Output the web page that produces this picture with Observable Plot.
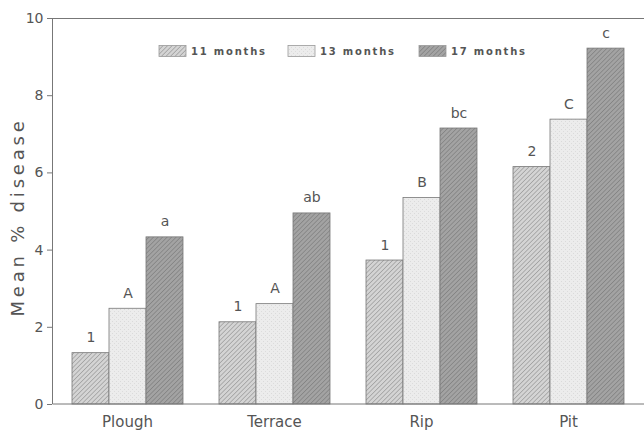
<!DOCTYPE html>
<html><head><meta charset="utf-8">
<script src="https://cdn.jsdelivr.net/npm/d3@7"></script>
<script src="https://cdn.jsdelivr.net/npm/@observablehq/plot@0.6"></script>
<style>body{margin:0;background:#fff;} #chart svg{display:block;}</style>
</head><body><div id="chart"></div>
<script>
const sites = ["Plough", "Terrace", "Rip", "Pit"];
const series = ["11 months", "13 months", "17 months"];
const m11 = [1.33, 2.13, 3.73, 6.15];
const m13 = [2.48, 2.60, 5.35, 7.38];
const m17 = [4.33, 4.95, 7.15, 9.22];
const lab11 = ["1", "1", "1", "2"];
const lab13 = ["A", "A", "B", "C"];
const lab17 = ["a", "ab", "bc", "c"];
const yTicks = [0, 2, 4, 6, 8, 10];
const yLabel = "Mean % disease";
const patternIds = ["p11", "p13", "p17"];

const vals = [m11, m13, m17], labs = [lab11, lab13, lab17];
const data = [];
sites.forEach((s, i) => series.forEach((m, j) =>
  data.push({site: s, month: m, value: vals[j][i], label: labs[j][i]})));

const font = "'DejaVu Sans', Verdana, sans-serif";
const marginLeft = 52;
function build(axisDx) {
  return Plot.plot({
    width: 644, height: 430,
    marginLeft, marginRight: 0, marginTop: 18, marginBottom: 26,
    style: {fontFamily: font, background: "#fff", color: "#555"},
    fx: {domain: sites, paddingInner: 0.236, paddingOuter: 0.128, label: null},
    x: {domain: series, padding: 0, axis: null},
    y: {domain: [0, 10], label: null},
    color: {domain: series, range: patternIds.map(id => `url(#${id})`)},
    marks: [
      Plot.axisY({ticks: yTicks, tickSize: 5, tickPadding: 4, fontSize: 14, label: null, stroke: "#777", dx: axisDx}),
      Plot.axisFx({anchor: "bottom", tickSize: 0, tickPadding: 12, fontSize: 15, label: null, letterSpacing: 0.5}),
      Plot.barY(data, {fx: "site", x: "month", y: "value", fill: "month", stroke: "#777", strokeWidth: 0.8}),
      Plot.text(data, {fx: "site", x: "month", y: "value", text: "label", dy: -11, lineAnchor: "bottom", fontSize: 14, fill: "#555"})
    ]
  });
}
const first = build(0);
const offset = first.scale("fx").apply(sites[0]) - marginLeft;
const plot = build(-offset);

const svg = d3.select(plot);
const defs = svg.insert("defs", ":first-child");
function hatch(id, bg, line, size, w) {
  const p = defs.append("pattern").attr("id", id).attr("patternUnits", "userSpaceOnUse")
    .attr("width", size).attr("height", size).attr("patternTransform", "rotate(45)");
  p.append("rect").attr("width", size).attr("height", size).attr("fill", bg);
  p.append("line").attr("x1", 0).attr("y1", 0).attr("x2", 0).attr("y2", size)
    .attr("stroke", line).attr("stroke-width", w);
}
hatch("p11", "#d4d4d4", "#8c8c8c", 3.2, 1.1);
hatch("p17", "#a3a3a3", "#767676", 3.2, 1.1);
{
  const p = defs.append("pattern").attr("id", "p13").attr("patternUnits", "userSpaceOnUse")
    .attr("width", 4).attr("height", 4);
  p.append("rect").attr("width", 4).attr("height", 4).attr("fill", "#ececec");
  p.append("rect").attr("x", 1).attr("y", 1).attr("width", 1).attr("height", 1).attr("fill", "#dadada");
  p.append("rect").attr("x", 3).attr("y", 3).attr("width", 1).attr("height", 1).attr("fill", "#dcdcdc");
}

// frame lines from scales
const y = plot.scale("y");
const y0 = y.apply(0), y10 = y.apply(10);
const left = marginLeft + 0.5, right = 644;
const g = svg.append("g").attr("stroke", "#777").attr("stroke-width", 1);
g.append("line").attr("x1", left).attr("x2", right).attr("y1", y10 + 0.5).attr("y2", y10 + 0.5);
g.append("line").attr("x1", left).attr("x2", right).attr("y1", y0).attr("y2", y0);
g.append("line").attr("x1", left).attr("x2", left).attr("y1", y10).attr("y2", y0);

// y label
svg.append("text").attr("transform", `translate(24,${(y0 + y10) / 2 + 6}) rotate(-90)`)
  .attr("text-anchor", "middle").attr("font-size", 18).attr("letter-spacing", 3.8)
  .attr("font-family", font).attr("fill", "#555").text(yLabel);

// legend
const lg = svg.append("g").attr("font-size", 10).attr("font-weight", "bold").attr("fill", "#555")
  .attr("font-family", font).attr("letter-spacing", 1.8).attr("text-anchor", "start");
const lx = [159, 288, 419];
series.forEach((s, i) => {
  lg.append("rect").attr("x", lx[i]).attr("y", 45.5).attr("width", 27).attr("height", 11)
    .attr("fill", `url(#${patternIds[i]})`).attr("stroke", "#999").attr("stroke-width", 0.8);
  lg.append("text").attr("x", lx[i] + 32).attr("y", 55).text(s);
});

document.getElementById("chart").appendChild(plot);
</script></body></html>
